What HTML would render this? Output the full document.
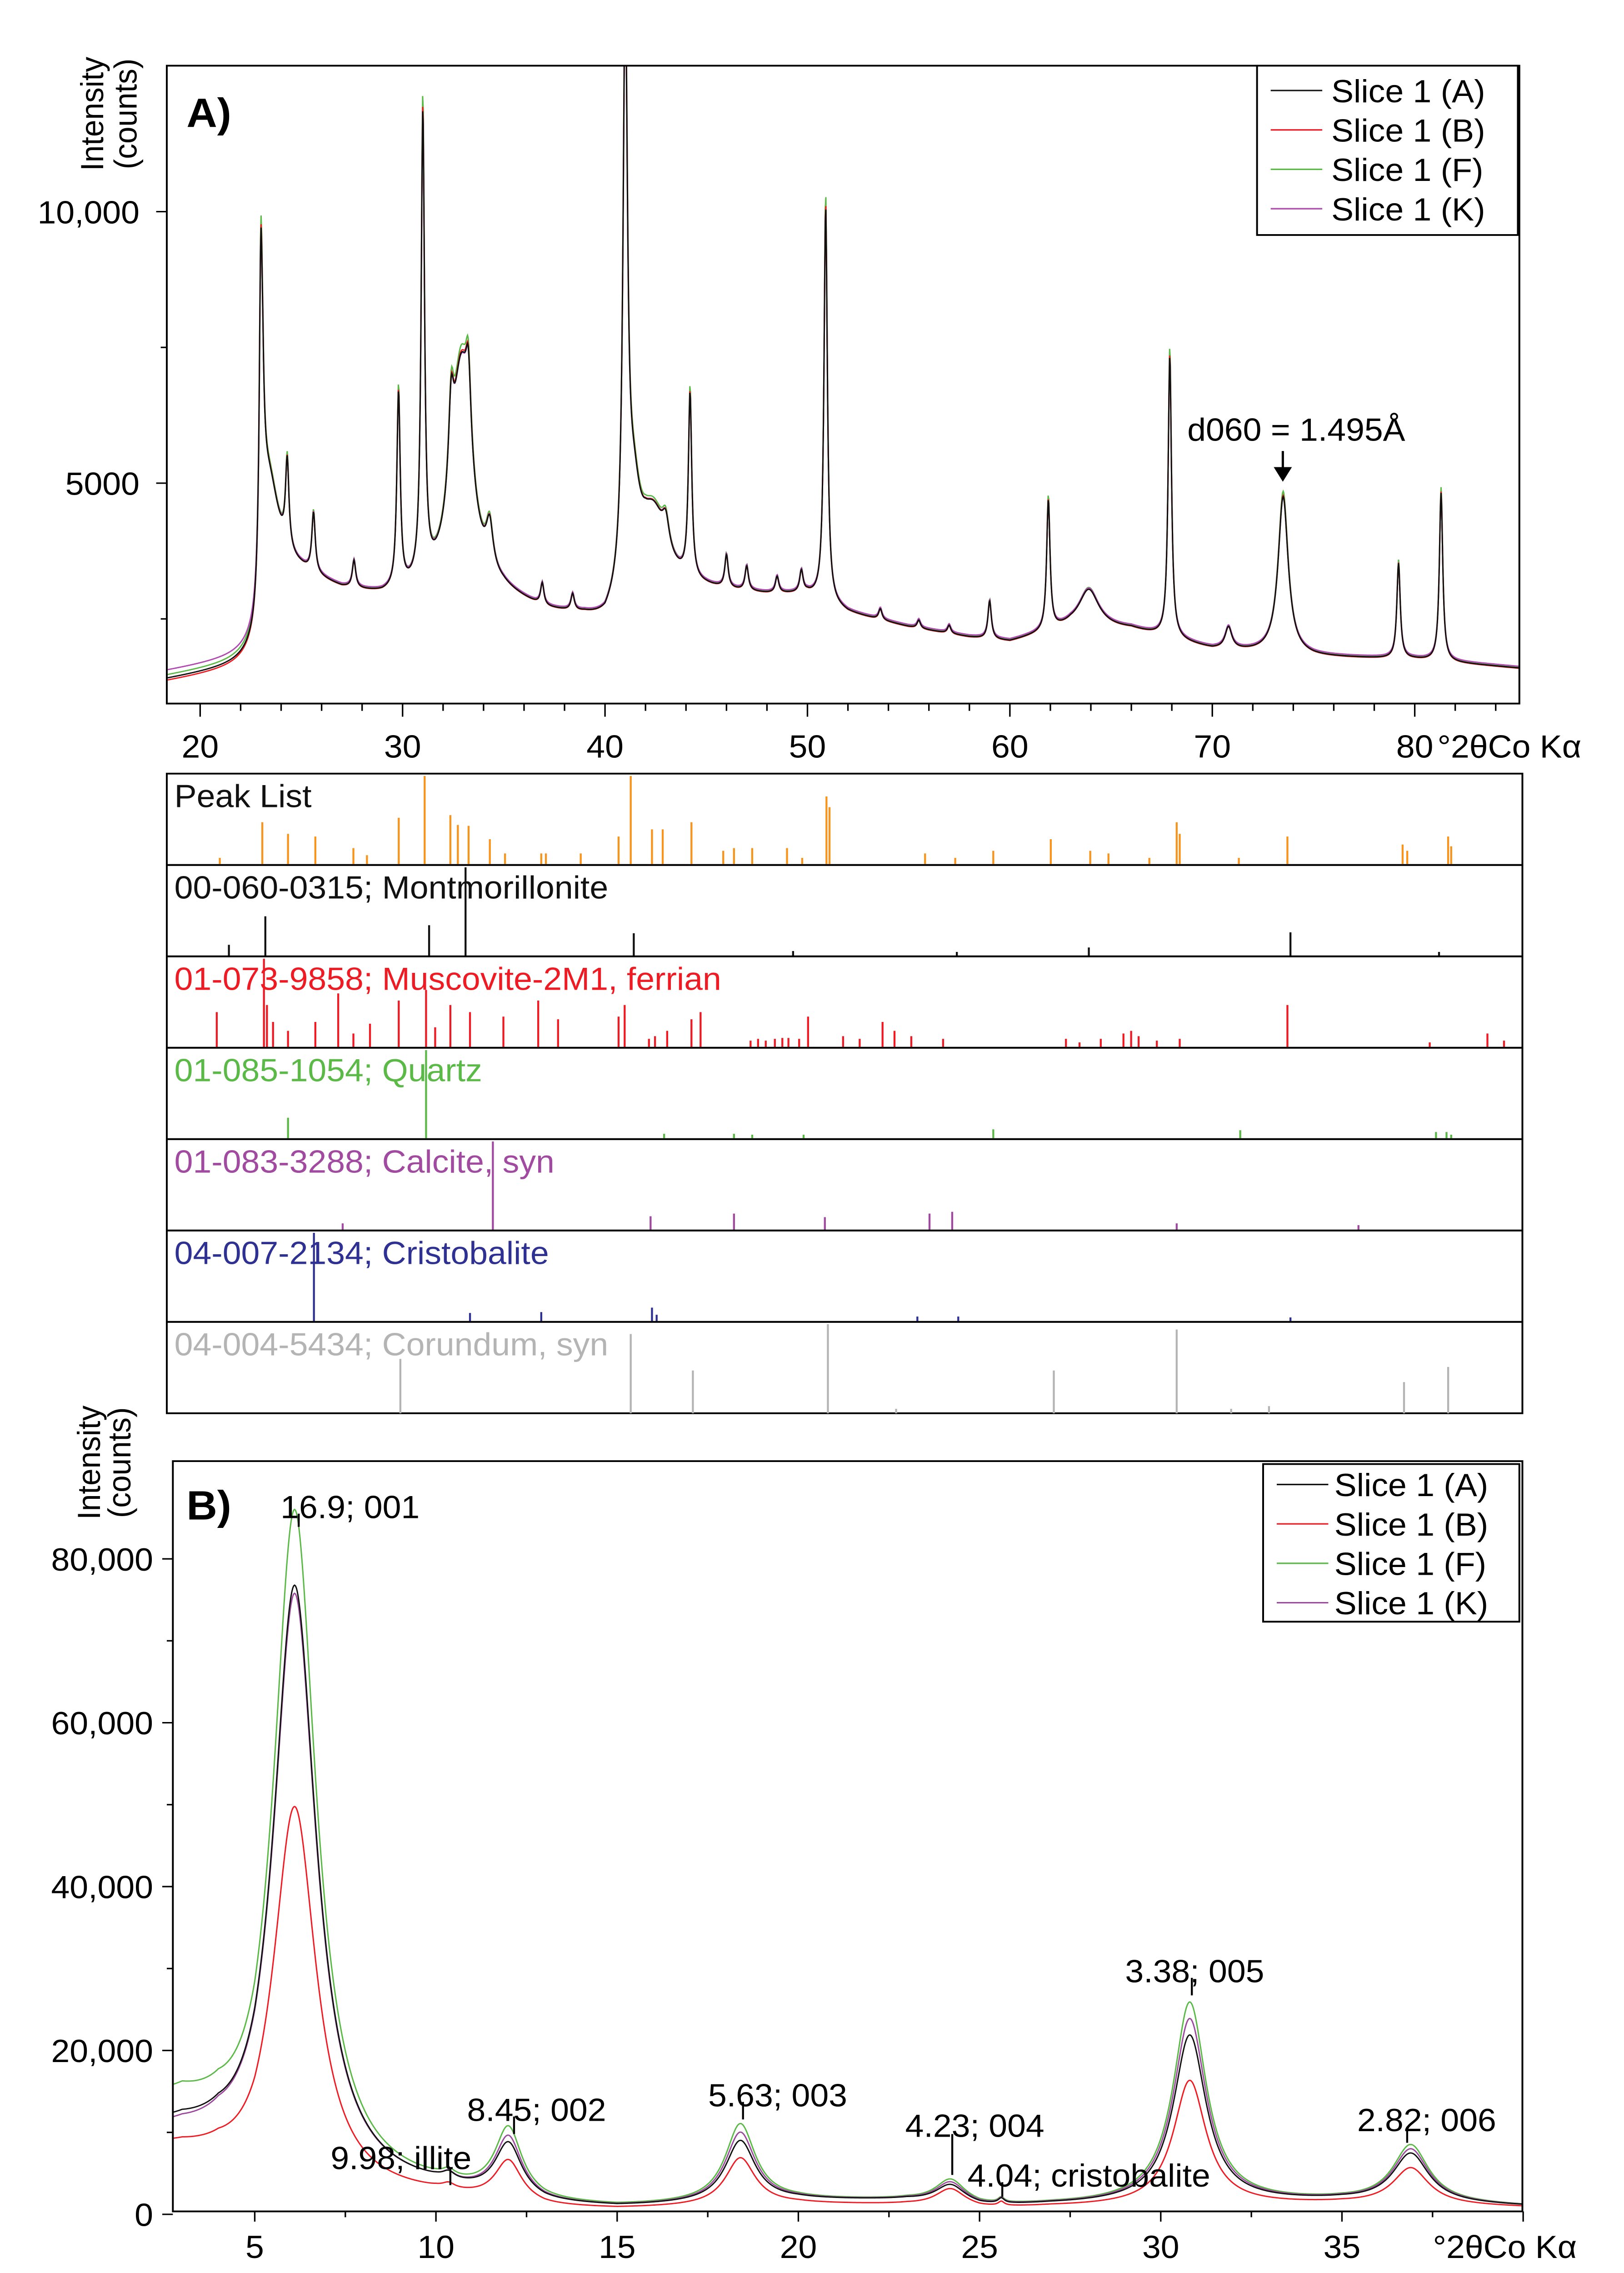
<!DOCTYPE html>
<html><head><meta charset="utf-8"><style>
html,body{margin:0;padding:0;background:#fff;width:100vw;height:100vh;overflow:hidden;}
svg{display:block;position:absolute;left:0;top:0;width:100vw;height:100vh;font-family:"Liberation Sans",Arial,sans-serif;}
</style></head><body>
<svg id="fig" xmlns="http://www.w3.org/2000/svg" viewBox="0 0 1071 1557.2" preserveAspectRatio="none">
<defs>
<clipPath id="clipA"><rect x="110" y="45" width="892" height="437"/></clipPath>
<clipPath id="clipB"><rect x="114" y="1001" width="890" height="514"/></clipPath>
</defs>
<g id="panelA"></g>
<g id="sticks"></g>
<g id="panelB"></g>
</svg>
<script>
// ---------- Panel A data ----------
const aBgX = [18.4,22.9,23.1,25,27,29,31,33,35,37,39,40,42,45,48,50,52,55,58,60,63,66,70,75,80,85.2];
const aBgY = [1380,1650,3500,3300,3010,2880,2900,3000,2880,2600,2470,2340,3000,3000,2930,2930,2600,2340,2150,2070,2340,2300,1935,1800,1750,1590];
const aPeakPos = [23.0,23.4,24.3,25.6,27.6,29.8,31.0,32.4,32.9,33.25,34.3,36.9,38.4,41.0,41.4,42.4,43.0,44.2,46.0,47.0,48.5,49.7,50.9,53.6,55.5,57.0,59.0,61.9,63.9,67.9,70.8,73.5,79.2,81.3];
const aPeakH = [6000,1500,1600,1100,500,3600,8600,1500,4000,1400,800,400,300,10500,1500,1300,500,3400,600,450,300,400,7300,200,150,150,700,2400,700,5200,400,2900,1750,3100];
const aPeakW = [0.11,0.6,0.1,0.1,0.1,0.1,0.1,0.15,0.6,0.15,0.2,0.1,0.1,0.13,0.4,0.8,0.2,0.1,0.1,0.1,0.1,0.1,0.1,0.1,0.1,0.1,0.1,0.1,0.6,0.1,0.2,0.3,0.1,0.1];
const aSeriesNames = ["Slice 1 (F)","Slice 1 (K)","Slice 1 (B)","Slice 1 (A)"];
const aSeriesColors = ["#5bb947","#b04ab0","#ed1c24","#111111"];
const aSeriesScale = [1.03,0.99,1.01,1.0];
const aSeriesBgOff = [60,150,-40,0];
const aXTicks = [20,30,40,50,60,70,80];
const aYTicks = [5000,10000];
const aYTickLabels = ["5000","10,000"];

// ---------- Stick panels ----------
const stickNames = ["Peak List","00-060-0315; Montmorillonite","01-073-9858; Muscovite-2M1, ferrian","01-085-1054; Quartz","01-083-3288; Calcite, syn","04-007-2134; Cristobalite","04-004-5434; Corundum, syn"];
const stickColors = ["#f7941d","#111111","#ed1c24","#5bb947","#a04aa0","#2e3192","#b4b4b4"];
const labelColors = ["#111111","#111111","#ed1c24","#5bb947","#a04aa0","#2e3192","#b4b4b4"];
const peakListPos = [20.97,23.07,24.34,25.69,27.57,28.24,29.81,31.09,32.36,32.73,33.26,34.31,35.06,36.85,37.08,38.80,40.67,41.27,42.32,42.85,44.27,45.84,46.37,47.27,48.99,49.74,50.94,51.09,55.81,57.30,59.18,62.02,63.97,64.87,66.89,68.24,68.39,71.31,73.71,79.40,79.63,81.65,81.80];
const peakListInt = [8,48,35,32,19,11,53,100,56,45,44,29,13,13,13,13,32,100,40,40,48,16,19,19,19,8,77,65,13,8,16,29,16,13,8,48,35,8,32,23,16,32,21];
const montPos = [21.42,23.22,31.31,33.11,41.42,49.29,57.38,63.9,73.86,81.2];
const montInt = [13,45,35,100,26,6,5,10,27,5];
const muscPos = [20.82,23.15,23.30,23.60,24.34,25.69,26.82,27.57,28.39,29.81,31.16,31.61,32.36,33.33,34.98,36.70,37.68,40.67,40.97,42.17,42.47,43.07,44.27,44.72,47.19,47.56,47.94,48.39,48.76,49.06,49.59,50.03,51.76,52.58,53.71,54.30,55.13,56.70,62.77,63.44,64.49,65.61,65.99,66.36,67.26,68.39,73.71,80.74,83.59,84.41];
const muscInt = [40,100,48,29,19,29,61,16,27,53,65,23,48,40,35,53,32,35,48,10,13,19,32,40,8,10,8,10,11,11,10,35,13,10,29,19,13,10,10,6,10,16,19,13,8,10,48,6,16,8];
const quartzPos = [24.34,31.16,42.92,46.37,47.27,49.81,59.18,71.38,81.05,81.57,81.80];
const quartzInt = [24,100,6,6,5,5,11,10,8,8,5];
const calcPos = [27.04,34.46,42.25,46.37,50.86,56.03,57.15,68.24,77.22];
const calcInt = [8,100,16,19,15,19,21,8,6];
const cristPos = [25.62,33.33,36.85,42.32,42.55,55.43,57.45,73.86];
const cristInt = [100,10,11,16,8,6,6,5];
const corPos = [29.89,41.27,44.34,51.01,54.38,62.17,68.24,70.93,72.80,79.47,81.65];
const corInt = [61,89,48,100,5,48,94,5,8,35,52];

// ---------- Panel B data ----------
const bBgX = [2.7,3,4,5,7,10,13,15,20,23,25,27,30,35,40];
const bBgA = [9200,9000,7000,3000,2500,2200,700,500,1500,1500,700,1000,1200,1500,900];
const bBgB = [7200,7000,5500,2500,2000,1800,500,400,1100,1000,500,800,900,1200,800];
const bBgF = [12200,12000,9000,3500,2500,2200,700,500,1500,1500,700,1000,1200,1500,900];
const bBgK = [8700,8500,6800,3000,2500,2200,700,500,1500,1500,700,1000,1200,1500,900];
const bPeakPos = [6.1,10.35,12.0,18.4,24.2,25.6,30.8,36.9];
const bPeakW = [0.72,0.2,0.45,0.5,0.5,0.1,0.55,0.6];
const bPeakA = [74000,800,6500,7500,2300,600,20500,6000];
const bPeakB = [47500,600,5000,5800,2200,500,15300,4500];
const bPeakF = [83000,800,8300,9500,2900,600,24500,7000];
const bPeakK = [73000,800,7300,8500,2600,600,22500,6500];
const bXTicks = [5,10,15,20,25,30,35];
const bYTicks = [0,20000,40000,60000,80000];
const bYTickLabels = ["0","20,000","40,000","60,000","80,000"];

const NS = "http://www.w3.org/2000/svg";
function el(parent, tag, attrs, text){
  const e = document.createElementNS(NS, tag);
  for (const k in attrs) e.setAttribute(k, attrs[k]);
  if (text !== undefined) e.textContent = text;
  parent.appendChild(e);
  return e;
}
function interp(xs, ys, x){
  if (x <= xs[0]) return ys[0];
  for (let i=1;i<xs.length;i++){ if (x<=xs[i]){ const t=(x-xs[i-1])/(xs[i]-xs[i-1]); return ys[i-1]+t*(ys[i]-ys[i-1]); } }
  return ys[ys.length-1];
}
function lor(x,p,w){ const d=(x-p)/w; return 1/(1+d*d); }

// ===== Panel A =====
const gA = document.getElementById('panelA');
const axA = v => 132 + (v-20)*13.35;
const ayA = c => 517 - c*0.0372;
let g = el(gA,'g',{'clip-path':'url(#clipA)'});
for (let s=0;s<aSeriesNames.length;s++){
  let d='';
  for (let x=18.3; x<=85.3; x+=0.03){
    let c = interp(aBgX,aBgY,x) + aSeriesBgOff[s]*(x<23?1:0.2);
    for (let i=0;i<aPeakPos.length;i++) c += aPeakH[i]*aSeriesScale[s]*lor(x,aPeakPos[i],aPeakW[i]);
    d += (d?'L':'M')+axA(x).toFixed(2)+','+ayA(c).toFixed(2);
  }
  const p = el(g,'path',{d:d,fill:'none',stroke:aSeriesColors[s],'stroke-width':0.9});
  
  
}
let fr = el(gA,'rect',{x:110,y:45,width:892,height:437,fill:'none',stroke:'#000','stroke-width':1.2});


for (let v=20; v<=84; v+=2){
  const major = v%10===0;
  el(gA,'line',{x1:axA(v),x2:axA(v),y1:482,y2:482+(major?9:5),stroke:'#000','stroke-width':1});
}
aXTicks.forEach(v=>{
  const t = el(gA,'text',{x:axA(v),y:519,'font-size':22,'text-anchor':'middle'}, String(v));
  
  
});
aYTicks.forEach((v,i)=>{
  el(gA,'line',{x1:103,x2:110,y1:ayA(v),y2:ayA(v),stroke:'#000','stroke-width':1});
  const t = el(gA,'text',{x:92,y:ayA(v)+8,'font-size':22,'text-anchor':'end'}, aYTickLabels[i]);
  
  
});
[2500,7500].forEach(v=>el(gA,'line',{x1:106,x2:110,y1:ayA(v),y2:ayA(v),stroke:'#000','stroke-width':1}));
let t = el(gA,'text',{x:948,y:519,'font-size':22}, '°2θCo Kα');


t = el(gA,'text',{transform:'translate(68,78) rotate(-90)','font-size':21,'text-anchor':'middle'}, 'Intensity');


t = el(gA,'text',{transform:'translate(90,78) rotate(-90)','font-size':21,'text-anchor':'middle'}, '(counts)');


t = el(gA,'text',{x:123,y:87,'font-size':28,'font-weight':'bold'}, 'A)');


t = el(gA,'text',{x:783,y:302,'font-size':22}, 'd060 = 1.495Å');


el(gA,'line',{x1:846,x2:846,y1:309,y2:322,stroke:'#000','stroke-width':1.5});
el(gA,'path',{d:'M840,320 L852,320 L846,330 Z',fill:'#000'});
let lg = el(gA,'g',{});


el(lg,'rect',{x:829,y:45,width:172,height:116,fill:'#fff',stroke:'#000','stroke-width':1.2});
const legOrderA = [3,2,0,1];
legOrderA.forEach((s,i)=>{
  const y = 62+i*27;
  el(lg,'line',{x1:838,x2:872,y1:y,y2:y,stroke:aSeriesColors[s],'stroke-width':1});
  const tt = el(lg,'text',{x:878,y:y+8,'font-size':22}, aSeriesNames[s]);
  
  
});

// ===== Stick panels =====
const gS = document.getElementById('sticks');
const stickPos = [peakListPos,montPos,muscPos,quartzPos,calcPos,cristPos,corPos];
const stickInt = [peakListInt,montInt,muscInt,quartzInt,calcInt,cristInt,corInt];
for (let k=0;k<7;k++){
  const top = 530 + k*62.6, bot = top+62.6;
  const pg = el(gS,'g',{});
  
  
  el(pg,'rect',{x:110,y:top,width:894,height:62.6,fill:'none',stroke:'#000','stroke-width':1.2});
  stickPos[k].forEach((p,i)=>{
    const ln = el(pg,'line',{x1:axA(p),x2:axA(p),y1:bot,y2:bot-stickInt[k][i]/100*61,stroke:stickColors[k],'stroke-width':1.3});
    
    
  });
  const tx = el(pg,'text',{x:115,y:top+23,'font-size':22,fill:labelColors[k]}, stickNames[k]);
  
  
}

// ===== Panel B =====
const gB = document.getElementById('panelB');
const axB = v => 168 + (v-5)*23.9;
const ayB = c => 1517 - c*0.005613;
const bBgs = [bBgF,bBgK,bBgA,bBgB];
const bPeaks = [bPeakF,bPeakK,bPeakA,bPeakB];
const bNames = ["Slice 1 (F)","Slice 1 (K)","Slice 1 (A)","Slice 1 (B)"];
const bColors = ["#5bb947","#9b4a9b","#111111","#ed1c24"];
g = el(gB,'g',{'clip-path':'url(#clipB)'});
for (let s=0;s<4;s++){
  let d='';
  for (let x=2.7; x<=40.1; x+=0.025){
    let c = interp(bBgX,bBgs[s],x);
    for (let i=0;i<bPeakPos.length;i++) c += bPeaks[s][i]*lor(x,bPeakPos[i],bPeakW[i]);
    d += (d?'L':'M')+axB(x).toFixed(2)+','+ayB(c).toFixed(2);
  }
  const p = el(g,'path',{d:d,fill:'none',stroke:bColors[s],'stroke-width':0.9});
  
  
}
fr = el(gB,'rect',{x:114,y:1001,width:890,height:514,fill:'none',stroke:'#000','stroke-width':1.2});


for (let v=5; v<=40; v+=2.5){
  const major = v%5===0;
  el(gB,'line',{x1:axB(v),x2:axB(v),y1:1515,y2:1515+(major?7:4),stroke:'#000','stroke-width':1});
}
bXTicks.forEach(v=>{
  const tt = el(gB,'text',{x:axB(v),y:1547,'font-size':22,'text-anchor':'middle'}, String(v));
  
  
});
bYTicks.forEach((v,i)=>{
  el(gB,'line',{x1:107,x2:114,y1:ayB(v),y2:ayB(v),stroke:'#000','stroke-width':1});
  const tt = el(gB,'text',{x:101,y:ayB(v)+8,'font-size':22,'text-anchor':'end'}, bYTickLabels[i]);
  
  
});
[10000,30000,50000,70000].forEach(v=>el(gB,'line',{x1:110,x2:114,y1:ayB(v),y2:ayB(v),stroke:'#000','stroke-width':1}));
t = el(gB,'text',{x:945,y:1547,'font-size':22}, '°2θCo Kα');


t = el(gB,'text',{transform:'translate(66,1002) rotate(-90)','font-size':21,'text-anchor':'middle'}, 'Intensity');


t = el(gB,'text',{transform:'translate(86,1002) rotate(-90)','font-size':21,'text-anchor':'middle'}, '(counts)');


t = el(gB,'text',{x:123,y:1041,'font-size':28,'font-weight':'bold'}, 'B)');


const annText = ["16.9; 001","9.98; illite","8.45; 002","5.63; 003","4.23; 004","4.04; cristobalite","3.38; 005","2.82; 006"];
const annX = [185,218,308,467,597,638,742,895];
const annY = [1032,1478,1445,1435,1456,1490,1350,1452];
const annTickX = [197,297,339,490,628,661,786,928];
const annTick1 = [1037,1485,1450,1440,1462,1495,1355,1457];
const annTick2 = [1046,1497,1462,1452,1490,1505,1367,1468];
annText.forEach((s,i)=>{
  const tt = el(gB,'text',{x:annX[i],y:annY[i]+8,'font-size':22}, s);
  
  
  el(gB,'line',{x1:annTickX[i],x2:annTickX[i],y1:annTick1[i],y2:annTick2[i],stroke:'#000','stroke-width':1.3});
});
lg = el(gB,'g',{});


el(lg,'rect',{x:833,y:1003,width:169,height:108,fill:'#fff',stroke:'#000','stroke-width':1.2});
[2,3,0,1].forEach((s,i)=>{
  const y = 1017+i*27;
  el(lg,'line',{x1:842,x2:876,y1:y,y2:y,stroke:bColors[s],'stroke-width':1});
  const tt = el(lg,'text',{x:880,y:y+8,'font-size':22}, bNames[s]);
  
  
});
</script>
</body></html>
